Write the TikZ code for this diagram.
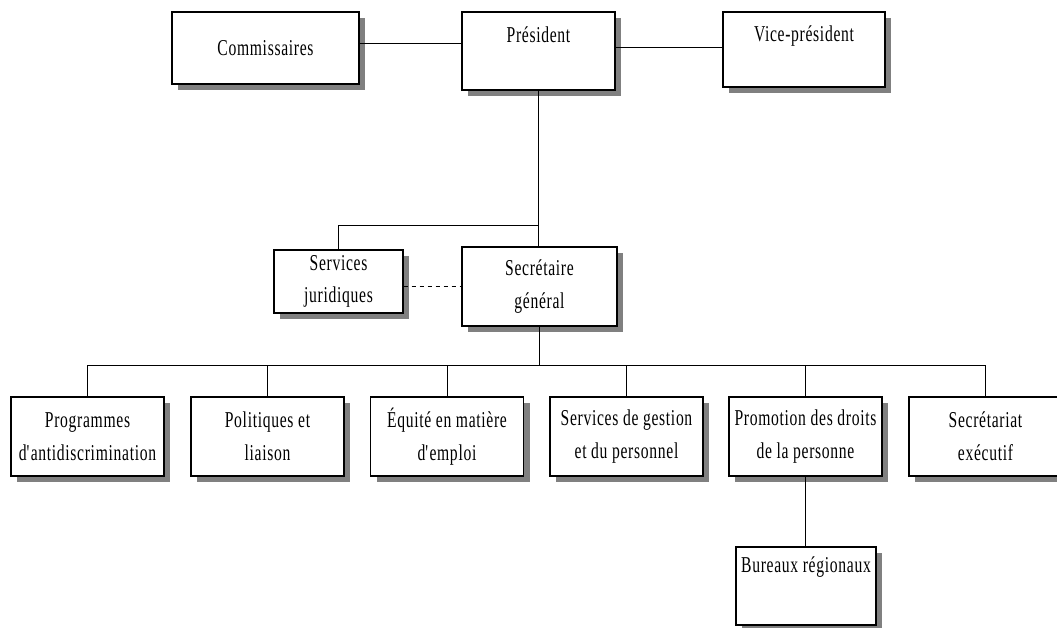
\documentclass[tikz,border=0pt]{standalone}
\usepackage{fontspec}
\setmainfont[FakeStretch=0.69,LetterSpace=3]{Liberation Serif}
\usepackage{tikz}
\usetikzlibrary{arrows,shapes,positioning,shadows}

\tikzset{
  unit/.style={draw,fill=white,line width=0.9pt,align=center,inner sep=0pt,
    font=\fontsize{17}{24.5}\selectfont,
    drop shadow={shadow xshift=4.5pt,shadow yshift=-4.5pt,fill=black!50,opacity=1}},
  dept/.style={unit,minimum width=114.75pt,minimum height=59.25pt},
  link/.style={line width=0.75pt}
}

\begin{document}
\begin{tikzpicture}[x=0.75pt,y=-0.75pt]
  % page frame, cut at the right edge
  \useasboundingbox (0,0) rectangle (1057,628);
  \clip (0,0) rectangle (1057,628);

  % top row
  \node[unit,minimum width=140.25pt,minimum height=54pt] (comm) at (265.5,48) {Commissaires};
  \node[unit,minimum width=114.75pt,minimum height=58.5pt] (pres) at (538.5,51) {Président\\{}};
  \node[unit,minimum width=121.5pt,minimum height=56.25pt] (vice) at (804,49.5) {Vice-président\\{}};

  % middle row
  \node[unit,minimum width=96.75pt,minimum height=47.25pt] (jur) at (338.5,281.5) {Services\\juridiques};
  \node[unit,minimum width=116.25pt,minimum height=59.25pt] (sg) at (539.5,286.5) {Secrétaire\\général};

  % branch points
  \coordinate (jbranch) at (539,225);
  \coordinate (bus) at (538,365);

  % bottom row
  \node[dept] (prog) at (87.5,436.5) {Programmes\\d\textquotesingle antidiscrimination};
  \node[dept] (pol) at (267.5,436.5) {Politiques et\\liaison};
  \node[dept] (equ) at (447,436.5) {Équité en matière\\d\textquotesingle emploi};
  \node[dept] (gest) at (626.5,436.5) {Services de gestion\\et du personnel};
  \node[dept] (promo) at (805.5,436.5) {Promotion des droits\\de la personne};
  \node[dept] (secr) at (985.5,436.5) {Secrétariat\\exécutif};

  % regional offices under promotion
  \node[unit,minimum width=105pt,minimum height=58.5pt] (bur) at (806,586) {Bureaux régionaux\\[8pt]{}};

  % links between the top boxes
  \draw[link] ([yshift=3.75pt]comm.east) -- ([yshift=3.75pt]comm.east -| pres.west);
  \draw[link] ([yshift=3pt]pres.east) -- ([yshift=3pt]pres.east -| vice.west);

  % president down to the secretary general, legal services on the side
  \draw[link] (pres.south) -- (pres.south |- sg.north);
  \draw[link] (jur.north) |- (jbranch);
  \draw[link,dashed] (jur.east |- sg.west) -- (sg.west);

  % secretary general down to the branches
  \draw[link] (sg.south) -- (sg.south |- bus);
  \foreach \b in {prog,pol,equ,gest,promo,secr}
    \draw[link] (\b.north) |- (bus);

  \draw[link] (promo.south) -- (promo.south |- bur.north);
\end{tikzpicture}
\end{document}
